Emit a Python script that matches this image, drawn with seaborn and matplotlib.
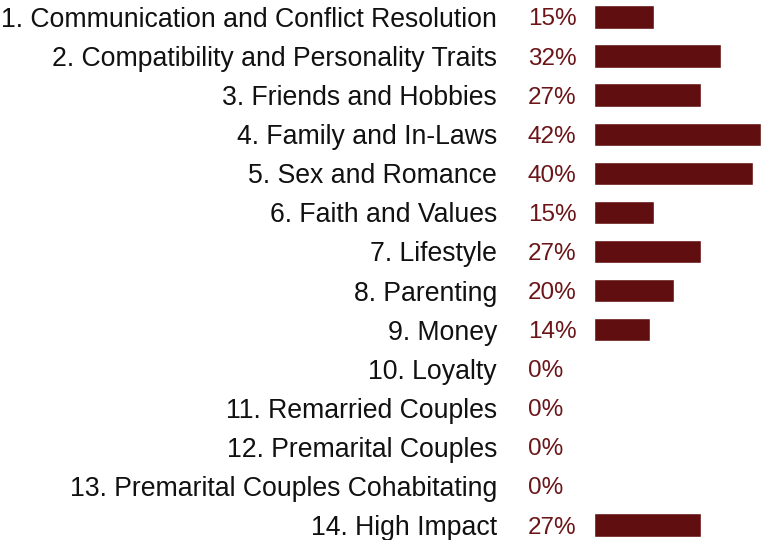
import matplotlib
matplotlib.use("Agg")
import matplotlib.pyplot as plt
import seaborn as sns
import pandas as pd

categories = [
    "1. Communication and Conflict Resolution",
    "2. Compatibility and Personality Traits",
    "3. Friends and Hobbies",
    "4. Family and In-Laws",
    "5. Sex and Romance",
    "6. Faith and Values",
    "7. Lifestyle",
    "8. Parenting",
    "9. Money",
    "10. Loyalty",
    "11. Remarried Couples",
    "12. Premarital Couples",
    "13. Premarital Couples Cohabitating",
    "14. High Impact",
]
percents = [15, 32, 27, 42, 40, 15, 27, 20, 14, 0, 0, 0, 0, 27]

df = pd.DataFrame({"topic": categories, "pct": percents})

sns.set_style("white")
plt.rcParams['font.family'] = ['Liberation Sans', 'DejaVu Sans']

W, H = 761, 540
fig = plt.figure(figsize=(W / 100, H / 100), dpi=100)
ax = fig.add_axes([594 / W, 0, 167 / W, 1])

sns.barplot(data=df, x="pct", y="topic", orient="h", color="#600E10",
            width=0.6, saturation=1, ax=ax)

ax.set_xlim(0, 42)
ax.set_ylim(13 + 15 / 39.08, -17 / 39.08)
ax.set_xlabel("")
ax.set_ylabel("")
ax.set_xticks([])
sns.despine(ax=ax, left=True, bottom=True)
ax.tick_params(axis="y", length=0, pad=97 * 0.72, labelsize=19.2, labelcolor="#111111")

for i, p in enumerate(percents):
    ax.annotate(f"{p}%", xy=(0, i), xycoords=("axes fraction", "data"),
                xytext=(-66 * 0.72, 0), textcoords="offset points",
                ha="left", va="center_baseline", fontsize=17.5, color="#6B1518")

fig.savefig("out.png", dpi=100)
